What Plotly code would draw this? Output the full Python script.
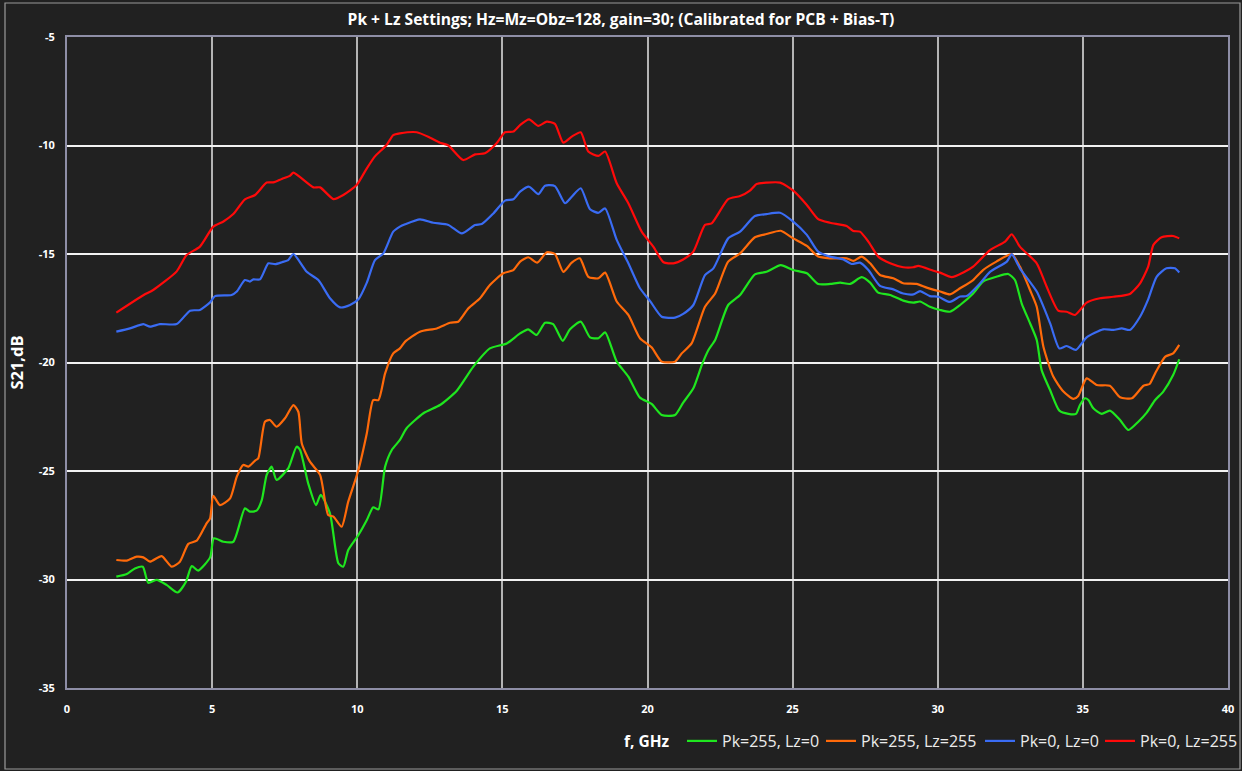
import plotly.graph_objects as go

# Frequency sweeps (GHz) and measured S21 (dB) for each Pk / Lz setting
f_pk255_lz0 = [1.70, 2.06, 2.34, 2.61, 2.80, 3.09, 3.43, 3.81, 4.10, 4.30, 4.52, 4.93, 5.06, 5.39, 5.73,
               6.13, 6.30, 6.53, 6.71, 6.88, 7.05, 7.22, 7.62, 7.91, 8.03, 8.31, 8.58, 8.74, 9.06, 9.35,
               9.52, 9.69, 10.04, 10.33, 10.55, 10.73, 10.96, 11.19, 11.47, 11.70, 12.28, 12.85, 13.43,
               14.00, 14.57, 15.15, 15.61, 15.89, 16.18, 16.47, 16.75, 17.08, 17.33, 17.70, 18.02, 18.31,
               18.54, 18.94, 19.34, 19.74, 20.14, 20.49, 20.95, 21.23, 21.58, 21.87, 22.10, 22.33, 22.78,
               23.19, 23.70, 24.10, 24.59, 25.02, 25.49, 25.88, 26.29, 26.64, 26.98, 27.38, 27.67, 27.95,
               28.36, 28.81, 29.16, 29.39, 29.73, 30.08, 30.42, 30.77, 31.22, 31.56, 32.02, 32.43, 32.66,
               32.89, 33.18, 33.41, 33.58, 33.87, 34.19, 34.50, 34.76, 34.90, 35.07, 35.19, 35.36, 35.65,
               35.93, 36.28, 36.57, 36.91, 37.20, 37.49, 37.77, 38.11, 38.32]
s21_pk255_lz0 = [-29.87, -29.75, -29.49, -29.41, -30.15, -30.02, -30.25, -30.60, -30.10, -29.38, -29.59,
                 -28.98, -28.10, -28.26, -28.26, -26.72, -26.87, -26.83, -26.34, -25.18, -24.80, -25.41,
                 -24.88, -23.88, -24.03, -25.57, -26.57, -26.10, -26.95, -29.25, -29.41, -28.64, -27.95,
                 -27.26, -26.67, -26.77, -24.80, -24.03, -23.57, -23.03, -22.34, -21.96, -21.30, -20.19,
                 -19.35, -19.12, -18.66, -18.47, -18.73, -18.17, -18.23, -19.00, -18.47, -18.12, -18.84,
                 -18.88, -18.61, -19.96, -20.65, -21.62, -21.91, -22.42, -22.42, -21.85, -21.19, -20.12,
                 -19.42, -18.96, -17.35, -16.89, -15.94, -15.82, -15.51, -15.74, -15.89, -16.38, -16.38,
                 -16.32, -16.38, -16.07, -16.32, -16.78, -16.89, -17.15, -17.24, -17.19, -17.43, -17.58,
                 -17.66, -17.35, -16.82, -16.27, -16.05, -15.92, -16.20, -17.27, -18.19, -18.96, -20.35,
                 -21.27, -22.22, -22.37, -22.37, -21.96, -21.65, -21.73, -22.11, -22.37, -22.22, -22.65,
                 -23.11, -22.73, -22.31, -21.73, -21.34, -20.58, -19.85]

f_pk255_lz255 = [1.70, 2.06, 2.40, 2.63, 2.86, 3.26, 3.61, 3.89, 4.18, 4.47, 4.81, 4.93, 5.04, 5.27, 5.62,
                 5.85, 6.07, 6.25, 6.48, 6.59, 6.82, 6.99, 7.22, 7.51, 7.80, 7.97, 8.09, 8.37, 8.72, 9.00,
                 9.18, 9.46, 9.69, 10.04, 10.33, 10.55, 10.73, 10.96, 11.24, 11.47, 11.65, 12.16, 12.74,
                 13.20, 13.48, 13.83, 14.23, 14.57, 15.03, 15.38, 15.61, 15.89, 16.20, 16.53, 16.81, 17.10,
                 17.39, 17.67, 17.96, 18.31, 18.54, 18.94, 19.34, 19.74, 20.14, 20.49, 20.95, 21.18, 21.52,
                 21.98, 22.33, 22.78, 23.19, 23.70, 24.10, 24.59, 25.02, 25.49, 25.88, 26.29, 26.86, 27.09,
                 27.38, 27.67, 28.01, 28.47, 28.81, 29.27, 29.62, 30.08, 30.42, 30.77, 31.22, 31.56, 32.02,
                 32.55, 32.83, 33.18, 33.41, 33.64, 33.98, 34.33, 34.67, 34.84, 35.13, 35.48, 35.93, 36.28,
                 36.69, 37.09, 37.30, 37.49, 37.84, 38.11, 38.32]
s21_pk255_lz255 = [-29.10, -29.13, -28.95, -28.98, -29.18, -28.92, -29.41, -29.18, -28.36, -28.21, -27.41,
                   -27.18, -26.15, -26.57, -26.26, -25.26, -24.72, -24.80, -24.52, -24.42, -22.73, -22.65,
                   -22.96, -22.57, -21.96, -22.27, -23.73, -24.57, -25.18, -27.03, -27.10, -27.57, -26.41,
                   -24.95, -23.26, -21.73, -21.73, -20.50, -19.58, -19.35, -19.04, -18.58, -18.43, -18.17,
                   -18.12, -17.50, -17.04, -16.43, -15.89, -15.74, -15.35, -15.15, -15.40, -14.92, -15.00,
                   -15.82, -15.40, -15.20, -16.05, -16.12, -15.86, -17.19, -17.81, -18.88, -19.30, -19.96,
                   -19.96, -19.58, -19.12, -17.43, -16.82, -15.35, -14.97, -14.23, -14.08, -13.93, -14.28,
                   -14.63, -15.12, -15.20, -15.20, -15.32, -15.12, -15.43, -15.97, -16.12, -16.35, -16.38,
                   -16.55, -16.73, -16.86, -16.58, -16.20, -15.74, -15.35, -15.01, -15.58, -16.66, -17.43,
                   -19.27, -20.65, -21.34, -21.68, -21.54, -20.73, -21.04, -21.07, -21.60, -21.65, -21.07,
                   -20.99, -20.50, -19.73, -19.58, -19.19]

f_pk0_lz0 = [1.70, 2.17, 2.63, 2.86, 3.20, 3.78, 4.24, 4.58, 4.93, 5.10, 5.67, 5.85, 6.13, 6.30, 6.42, 6.65,
             6.94, 7.17, 7.40, 7.62, 7.80, 8.26, 8.66, 9.06, 9.41, 9.75, 10.04, 10.33, 10.61, 10.90, 11.24,
             11.47, 11.65, 12.16, 12.62, 13.14, 13.60, 14.06, 14.29, 14.69, 15.09, 15.38, 15.61, 15.92,
             16.24, 16.47, 16.81, 17.16, 17.39, 17.70, 18.02, 18.31, 18.54, 18.94, 19.34, 19.74, 20.09,
             20.49, 20.95, 21.23, 21.58, 21.98, 22.27, 22.78, 23.19, 23.70, 24.10, 24.57, 25.02, 25.49,
             25.88, 26.29, 26.75, 27.03, 27.32, 27.61, 28.01, 28.47, 28.81, 29.16, 29.39, 29.73, 30.02,
             30.42, 30.77, 31.00, 31.46, 31.80, 32.38, 32.55, 32.83, 33.41, 33.87, 34.19, 34.44, 34.76,
             35.13, 35.70, 36.05, 36.34, 36.62, 36.97, 37.25, 37.54, 37.88, 38.17, 38.32]
s21_pk0_lz0 = [-18.58, -18.43, -18.23, -18.35, -18.23, -18.23, -17.61, -17.58, -17.23, -16.94, -16.89,
               -16.73, -16.20, -16.27, -16.17, -16.17, -15.43, -15.47, -15.38, -15.28, -15.00, -15.82,
               -16.20, -17.04, -17.46, -17.35, -17.09, -16.32, -15.28, -14.97, -13.97, -13.74, -13.63,
               -13.40, -13.56, -13.66, -14.05, -13.66, -13.62, -13.13, -12.54, -12.48, -12.13, -11.90,
               -12.24, -11.85, -11.87, -12.66, -12.36, -11.97, -12.94, -13.10, -12.90, -14.35, -15.43,
               -16.58, -17.17, -17.89, -17.93, -17.76, -17.35, -15.97, -15.66, -14.28, -13.97, -13.25,
               -13.16, -13.10, -13.51, -14.12, -14.89, -15.12, -15.25, -15.46, -15.40, -15.74, -16.47,
               -16.63, -16.82, -16.86, -16.71, -16.94, -16.97, -17.21, -16.96, -16.94, -16.35, -15.82,
               -15.35, -15.01, -15.66, -16.73, -18.19, -19.35, -19.24, -19.42, -18.84, -18.47, -18.50,
               -18.43, -18.50, -17.89, -17.09, -16.05, -15.66, -15.66, -15.85]

f_pk0_lz255 = [1.70, 2.63, 2.97, 3.78, 4.12, 4.58, 5.04, 5.39, 5.73, 6.13, 6.48, 6.88, 7.11, 7.40, 7.68, 7.80,
               8.49, 8.72, 9.18, 9.52, 9.98, 10.33, 10.61, 10.78, 11.01, 11.24, 11.47, 12.05, 12.51, 12.85,
               13.14, 13.65, 14.06, 14.40, 14.80, 15.09, 15.38, 15.61, 15.92, 16.24, 16.53, 16.81, 17.10,
               17.39, 17.70, 17.96, 18.31, 18.54, 18.94, 19.34, 19.80, 20.20, 20.55, 20.89, 21.23, 21.58,
               21.98, 22.21, 22.78, 23.19, 23.53, 23.76, 24.10, 24.57, 25.02, 25.49, 25.88, 26.29, 26.86,
               27.09, 27.32, 27.61, 27.95, 28.36, 28.81, 29.16, 29.33, 29.85, 30.08, 30.48, 30.88, 31.22,
               31.80, 32.32, 32.55, 32.83, 33.41, 33.75, 34.15, 34.44, 34.73, 35.13, 35.59, 36.05, 36.62,
               36.97, 37.25, 37.43, 37.71, 38.11, 38.32]
s21_pk0_lz255 = [-17.70, -16.90, -16.66, -15.80, -15.05, -14.66, -13.74, -13.50, -13.16, -12.48, -12.28,
                 -11.71, -11.70, -11.54, -11.40, -11.25, -11.93, -11.93, -12.47, -12.28, -11.82, -11.05,
                 -10.50, -10.28, -9.98, -9.52, -9.44, -9.39, -9.64, -9.87, -10.00, -10.67, -10.41, -10.36,
                 -9.90, -9.39, -9.36, -9.06, -8.80, -9.10, -8.90, -9.00, -9.87, -9.59, -9.39, -10.28,
                 -10.48, -10.28, -11.74, -12.66, -13.97, -14.66, -15.38, -15.43, -15.25, -14.89, -13.66,
                 -13.59, -12.47, -12.33, -12.08, -11.77, -11.71, -11.71, -12.08, -12.74, -13.39, -13.56,
                 -13.71, -13.94, -13.97, -14.43, -15.12, -15.43, -15.61, -15.61, -15.55, -15.77, -15.86,
                 -16.07, -15.85, -15.58, -14.82, -14.43, -14.09, -14.66, -15.43, -16.50, -17.61, -17.66,
                 -17.81, -17.24, -17.04, -16.97, -16.84, -16.35, -15.58, -14.58, -14.23, -14.17, -14.28]

series_names = ["Pk=255, Lz=0", "Pk=255, Lz=255", "Pk=0, Lz=0", "Pk=0, Lz=255"]
series_f = [f_pk255_lz0, f_pk255_lz255, f_pk0_lz0, f_pk0_lz255]
series_s21 = [s21_pk255_lz0, s21_pk255_lz255, s21_pk0_lz0, s21_pk0_lz255]
series_colors = ["#1fe61f", "#ff6a0a", "#3a6cf4", "#ff0a0a"]

x_ticks = [0, 5, 10, 15, 20, 25, 30, 35, 40]
y_ticks = [-35, -30, -25, -20, -15, -10, -5]

BG = "#212121"
FRAME = "#8e8ea6"
FONT = "Open Sans"

W, H = 1242, 771
L, R, T, B = 67, 14, 37, 83
pw, ph = W - L - R, H - T - B

# each legend entry gets its own legend box so the row spacing stays compact
legend_ids = ["legend", "legend2", "legend3", "legend4"]
legend_left_px = [682, 821, 980, 1100]
legend_row_y = -(741 - (T + ph)) / ph

fig = go.Figure()
for name, fx, sy, color, lid in zip(series_names, series_f, series_s21, series_colors, legend_ids):
    fig.add_trace(go.Scatter(
        x=fx, y=sy, name=name, mode="lines", legend=lid,
        line=dict(color=color, width=2.2, shape="spline", smoothing=0.6),
    ))

legend_style = dict(
    orientation="h", xanchor="left", yanchor="middle", y=legend_row_y,
    bgcolor="rgba(0,0,0,0)",
    font=dict(family=FONT, size=16, color="#ececec"),
    itemwidth=30,
)
legend_layout = {
    lid: dict(x=(px - L) / pw, **legend_style)
    for lid, px in zip(legend_ids, legend_left_px)
}

fig.update_layout(
    width=W, height=H,
    margin=dict(l=L, r=R, t=T, b=B, autoexpand=False),
    paper_bgcolor=BG, plot_bgcolor=BG,
    font=dict(family=FONT, color="#ffffff"),
    title=dict(
        text="<b>Pk + Lz Settings; Hz=Mz=Obz=128, gain=30; (Calibrated for PCB + Bias-T)</b>",
        x=0.5, xref="container", xanchor="center",
        y=1 - 20 / H, yref="container", yanchor="middle",
        font=dict(family=FONT, size=15.6, color="#ffffff"),
    ),
    xaxis=dict(
        range=[0, 40], tickvals=x_ticks, ticktext=[str(v) for v in x_ticks],
        showgrid=True, gridcolor="#b4b4b4", gridwidth=1.5,
        showline=True, linecolor=FRAME, linewidth=2, mirror=True,
        zeroline=False, ticks="", ticklabelstandoff=10,
        tickfont=dict(family=FONT, size=11, color="#ffffff", weight="bold"),
    ),
    yaxis=dict(
        range=[-35, -5], tickvals=y_ticks, ticktext=[str(v) for v in y_ticks],
        showgrid=True, gridcolor="#f2f2f2", gridwidth=1.5,
        showline=True, linecolor=FRAME, linewidth=2, mirror=True,
        zeroline=False, ticks="", ticklabelstandoff=8,
        tickfont=dict(family=FONT, size=11, color="#ffffff", weight="bold"),
        title=dict(text="<b>S21,dB</b>", font=dict(family=FONT, size=16.5, color="#ffffff"), standoff=11),
    ),
    showlegend=True,
    **legend_layout,
)

# x-axis caption placed to the left of the legend row
fig.add_annotation(
    text="<b>f, GHz</b>", xref="paper", yref="paper",
    x=(672 - L) / pw, y=legend_row_y,
    xanchor="right", yanchor="middle", showarrow=False,
    font=dict(family=FONT, size=15.5, color="#ffffff"),
)

# thin outer border around the chart area
fig.add_shape(
    type="rect", xref="paper", yref="paper",
    x0=(5 - L) / pw, x1=(1240 - L) / pw,
    y0=-(769 - (T + ph)) / ph, y1=(T + ph - 3) / ph,
    line=dict(color="#9a9a9a", width=1.2), layer="below",
)

fig.write_html("out.html")
